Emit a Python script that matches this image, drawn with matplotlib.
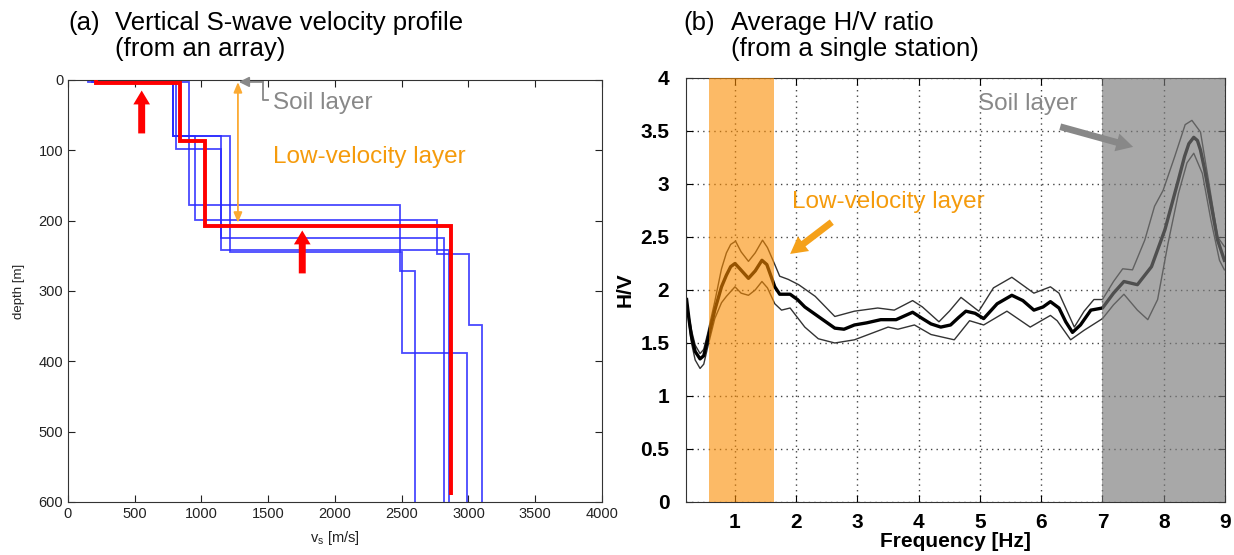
import matplotlib
matplotlib.use('Agg')
import matplotlib.pyplot as plt

plt.rcParams['font.family'] = ['Liberation Sans', 'DejaVu Sans']
plt.rcParams['xtick.direction'] = 'in'
plt.rcParams['ytick.direction'] = 'in'

# --- (a) shear-wave velocity profiles: layer velocities [m/s] and layer boundaries [m]
blue_vel = [
    [150, 906, 2487, 2600],
    [200, 784, 951, 2766, 3006, 3100],
    [200, 809, 1146, 2816],
    [180, 784, 1213, 2504, 2986],
    [200, 784, 1146, 2856],
]
blue_depth = [
    [0, 3, 178, 271, 600],
    [0, 3, 80, 199, 247, 348, 600],
    [0, 3, 98, 224, 600],
    [0, 3, 80, 244, 388, 600],
    [0, 3, 80, 242, 600],
]
red_vel = [210, 839, 1029, 2869]
red_depth = [0, 5, 87, 207, 590]

# --- (b) average H/V ratio with +/- one standard deviation
freq_mean = [0.21, 0.25, 0.29, 0.35, 0.43, 0.49, 0.55, 0.67, 0.78, 0.86, 0.93, 1.0, 1.08,
             1.22, 1.33, 1.44, 1.52, 1.65, 1.73, 1.9, 2.02, 2.14, 2.36, 2.63, 2.78, 2.95,
             3.15, 3.38, 3.63, 3.9, 4.06, 4.2, 4.36, 4.52, 4.65, 4.77, 4.92, 5.06, 5.28,
             5.52, 5.7, 5.88, 6.03, 6.15, 6.29, 6.4, 6.51, 6.64, 6.81, 7.0, 7.18, 7.35,
             7.57, 7.8, 8.02, 8.24, 8.34, 8.41, 8.49, 8.55, 8.6, 8.67, 8.74, 8.88, 8.99]
hv_mean = [1.91, 1.72, 1.56, 1.42, 1.35, 1.38, 1.52, 1.81, 2.03, 2.14, 2.22, 2.25, 2.20,
           2.11, 2.18, 2.28, 2.24, 2.03, 1.96, 1.96, 1.91, 1.84, 1.75, 1.64, 1.63, 1.67,
           1.69, 1.72, 1.72, 1.79, 1.73, 1.68, 1.65, 1.67, 1.74, 1.80, 1.78, 1.73, 1.87,
           1.95, 1.90, 1.81, 1.84, 1.89, 1.83, 1.70, 1.60, 1.67, 1.81, 1.83, 1.97, 2.08,
           2.05, 2.22, 2.57, 3.04, 3.26, 3.38, 3.44, 3.41, 3.32, 3.13, 2.91, 2.47, 2.28]

freq_up = [0.21, 0.25, 0.29, 0.35, 0.43, 0.49, 0.55, 0.67, 0.78, 0.86, 0.93, 1.01, 1.1,
           1.22, 1.33, 1.45, 1.53, 1.65, 1.73, 1.87, 2.04, 2.31, 2.63, 2.95, 3.33, 3.6,
           3.9, 4.06, 4.33, 4.5, 4.69, 4.98, 5.22, 5.52, 5.88, 6.15, 6.29, 6.54, 6.70,
           6.86, 7.0, 7.18, 7.33, 7.49, 7.69, 7.85, 7.99, 8.18, 8.35, 8.46, 8.6, 8.74,
           8.88, 8.99]
hv_up = [1.91, 1.75, 1.62, 1.48, 1.40, 1.44, 1.58, 1.89, 2.20, 2.35, 2.43, 2.46, 2.36,
         2.27, 2.35, 2.47, 2.40, 2.24, 2.13, 2.10, 2.05, 1.94, 1.75, 1.80, 1.83, 1.81,
         1.90, 1.84, 1.70, 1.80, 1.93, 1.80, 2.02, 2.12, 1.97, 2.03, 1.97, 1.65, 1.80,
         1.91, 1.91, 2.08, 2.20, 2.19, 2.47, 2.79, 2.94, 3.26, 3.56, 3.60, 3.49, 3.00,
         2.50, 2.41]

freq_low = [0.21, 0.25, 0.29, 0.35, 0.43, 0.49, 0.55, 0.67, 0.78, 0.86, 1.0, 1.1, 1.22,
            1.33, 1.44, 1.53, 1.65, 1.76, 1.9, 2.14, 2.36, 2.63, 2.95, 3.5, 3.66, 3.93,
            4.2, 4.58, 4.83, 5.06, 5.44, 5.82, 6.15, 6.26, 6.48, 6.70, 7.0, 7.18, 7.35,
            7.57, 7.74, 7.9, 8.07, 8.24, 8.38, 8.49, 8.63, 8.77, 8.91, 8.99]
hv_low = [1.90, 1.68, 1.50, 1.34, 1.26, 1.30, 1.45, 1.73, 1.88, 1.94, 2.03, 1.97, 1.95,
          2.00, 2.08, 2.02, 1.87, 1.81, 1.83, 1.65, 1.54, 1.50, 1.53, 1.65, 1.63, 1.67,
          1.58, 1.53, 1.71, 1.67, 1.80, 1.65, 1.76, 1.71, 1.53, 1.62, 1.73, 1.86, 1.96,
          1.81, 1.72, 1.91, 2.44, 2.91, 3.20, 3.29, 3.10, 2.66, 2.28, 2.19]

low_vel_band = (0.58, 1.64)
soil_band = (7.0, 9.0)

orange = '#f59b0c'
gray_txt = '#888888'

fig = plt.figure(figsize=(12.34, 5.55), dpi=100)
ax1 = fig.add_axes([0.0551, 0.0955, 0.4327, 0.7604])
ax2 = fig.add_axes([0.5559, 0.0955, 0.4368, 0.7640])

# ---------------- left panel ----------------
for v, d in zip(blue_vel, blue_depth):
    ax1.stairs(v, d, orientation='horizontal', baseline=None,
               color='#2a2aff', lw=1.3, alpha=0.85)
ax1.stairs(red_vel, red_depth, orientation='horizontal', baseline=None,
           color='#ff0000', lw=2.8, zorder=3)

ax1.set_xlim(0, 4000)
ax1.set_ylim(600, 0)
ax1.set_xticks(range(0, 4001, 500))
ax1.set_yticks(range(0, 601, 100))
ax1.tick_params(top=True, right=True, labelsize=10.5, colors='#222222', length=5)
for s in ax1.spines.values():
    s.set_color('#333333')
ax1.set_ylabel('depth [m]', fontsize=9.5, color='#222222', labelpad=10)
ax1.set_xlabel('v$_\\mathregular{s}$ [m/s]', fontsize=10.5, color='#222222', labelpad=6)

# upward red arrows
red_arrow = dict(arrowstyle='simple,head_length=0.5,head_width=0.6,tail_width=0.25',
                 color='#ff0000', lw=0, mutation_scale=20, shrinkA=0, shrinkB=0)
ax1.annotate('', xy=(552, 15), xytext=(552, 76), arrowprops=red_arrow, zorder=5)
ax1.annotate('', xy=(1755, 214), xytext=(1755, 275), arrowprops=red_arrow, zorder=5)

# double arrow spanning the low-velocity layer
ax1.annotate('', xy=(1273, 3), xytext=(1273, 203),
             arrowprops=dict(arrowstyle='<|-|>,head_length=0.6,head_width=0.25',
                             color='#fbaa33', lw=1.3, shrinkA=0, shrinkB=0))
# bracket pointing to the soil layer
ax1.plot([1500, 1461, 1461], [28.4, 28.4, 2.8], color=gray_txt, lw=1.3)
ax1.annotate('', xy=(1280, 2.8), xytext=(1461, 2.8),
             arrowprops=dict(arrowstyle='-|>,head_length=0.6,head_width=0.3',
                             color=gray_txt, lw=1.3, shrinkA=0, shrinkB=0))
ax1.text(1536, 33, 'Soil layer', color=gray_txt, fontsize=17.5, va='center', ha='left')
ax1.text(1536, 109.5, 'Low-velocity layer', color=orange, fontsize=17.5,
         va='center', ha='left')

# ---------------- right panel ----------------
ax2.plot(freq_up, hv_up, color='#333333', lw=1.0)
ax2.plot(freq_low, hv_low, color='#333333', lw=1.0)
ax2.plot(freq_mean, hv_mean, color='black', lw=2.4)
ax2.axvspan(*low_vel_band, color='#fb8c00', alpha=0.6, lw=0, zorder=4)
ax2.axvspan(*soil_band, color='#7a7a7a', alpha=0.65, lw=0, zorder=4)

ax2.set_xlim(0.2, 9)
ax2.set_ylim(0, 4)
ax2.set_xticks(range(1, 10))
ax2.set_yticks([0, 0.5, 1, 1.5, 2, 2.5, 3, 3.5, 4])
ax2.set_yticklabels(['0', '0.5', '1', '1.5', '2', '2.5', '3', '3.5', '4'])
ax2.grid(True, linestyle=(0, (1, 3)), color='#444444', lw=1.0)
ax2.tick_params(top=True, right=True, labelsize=15, length=5)
ax2.tick_params(axis='y', pad=12)
ax2.tick_params(axis='x', pad=8)
for lab in ax2.get_xticklabels() + ax2.get_yticklabels():
    lab.set_fontweight('bold')
for s in ax2.spines.values():
    s.set_color('#333333')
ax2.set_xlabel('Frequency [Hz]', fontsize=15, fontweight='bold', labelpad=0)
ax2.set_ylabel('H/V', fontsize=15, fontweight='bold', labelpad=4)

thick_arrow = 'simple,head_length=0.55,head_width=0.6,tail_width=0.22'
ax2.annotate('', xy=(7.50, 3.35), xytext=(6.31, 3.54), zorder=6,
             arrowprops=dict(arrowstyle=thick_arrow, color='#888888', lw=0,
                             mutation_scale=22, shrinkA=0, shrinkB=0))
ax2.annotate('', xy=(1.90, 2.34), xytext=(2.58, 2.64), zorder=6,
             arrowprops=dict(arrowstyle=thick_arrow, color='#f5a11a', lw=0,
                             mutation_scale=22, shrinkA=0, shrinkB=0))
ax2.text(4.97, 3.75, 'Soil layer', color=gray_txt, fontsize=17.5, va='center', zorder=6)
ax2.text(1.93, 2.83, 'Low-velocity layer', color=orange, fontsize=17.5, va='center', zorder=6)

# panel titles
tsize = 18.5
fig.text(68 / 1234, 1 - 23 / 555, '(a)', fontsize=tsize, va='center')
fig.text(115 / 1234, 1 - 23 / 555, 'Vertical S-wave velocity profile', fontsize=tsize,
         va='center')
fig.text(115 / 1234, 1 - 49 / 555, '(from an array)', fontsize=tsize, va='center')
fig.text(683 / 1234, 1 - 23 / 555, '(b)', fontsize=tsize, va='center')
fig.text(731 / 1234, 1 - 23 / 555, 'Average H/V ratio', fontsize=tsize, va='center')
fig.text(731 / 1234, 1 - 49 / 555, '(from a single station)', fontsize=tsize, va='center')

fig.savefig('out.png', dpi=100)
